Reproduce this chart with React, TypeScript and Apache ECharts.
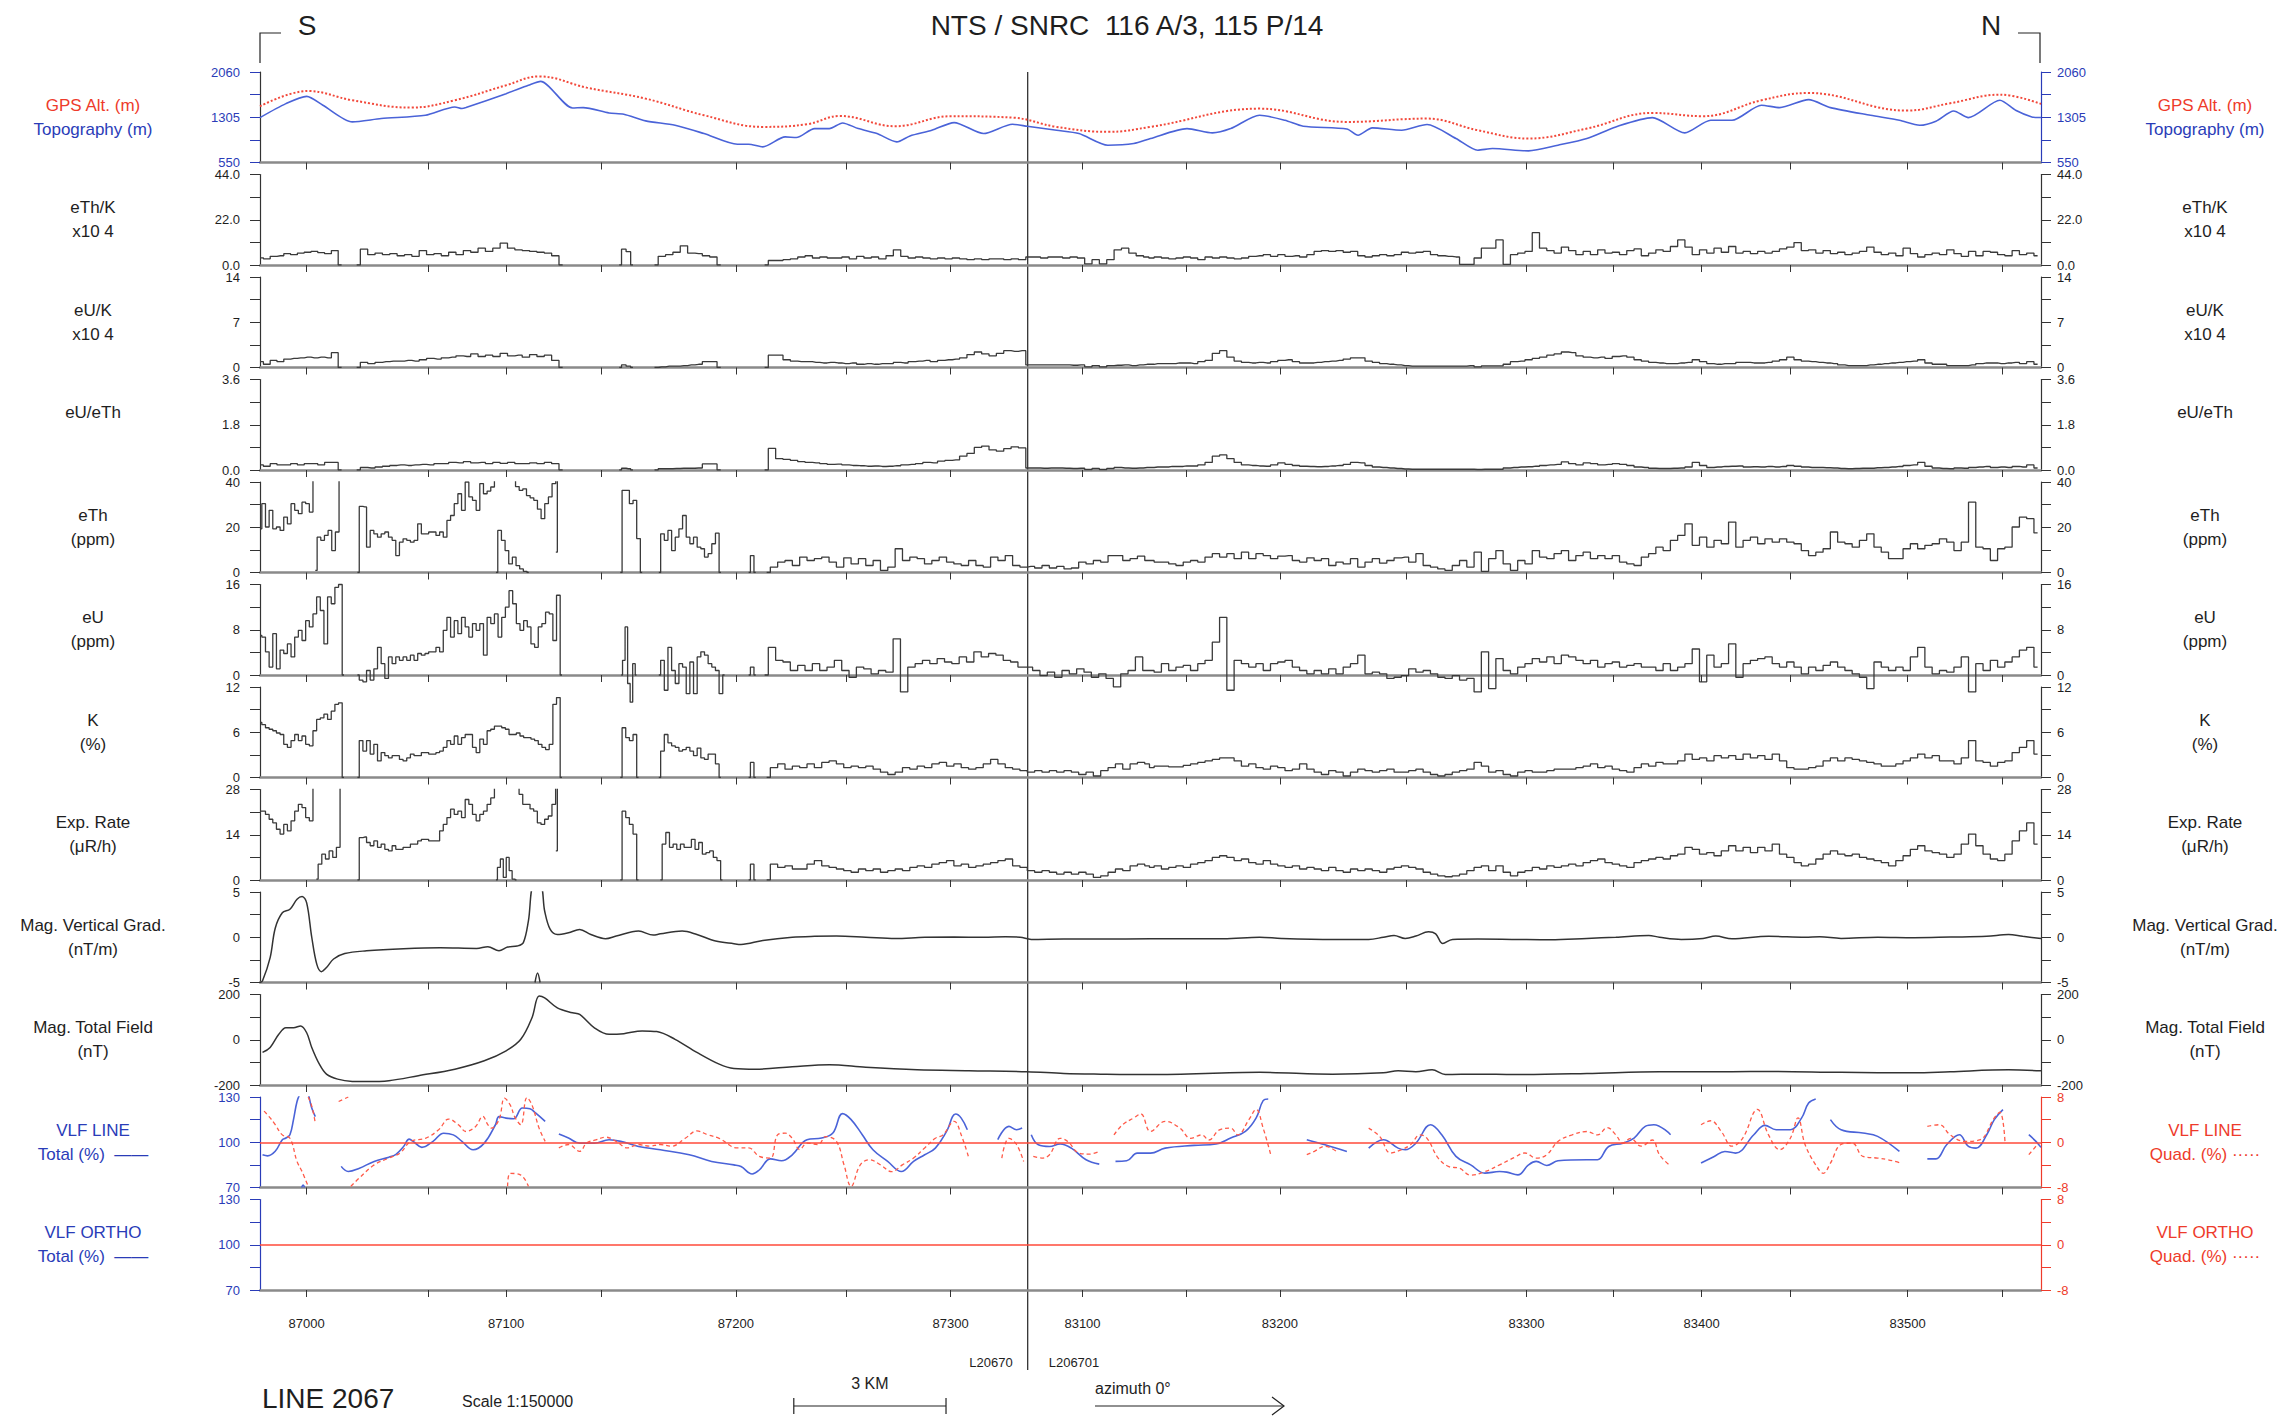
import React, { useEffect, useRef } from 'react';
import * as echarts from 'echarts';

// ---------------- layout (not data) ----------------
const CW = 2289, CH = 1417;
const PLOT_L = 260, PLOT_R = 2041;
const TOP0 = 72, STEP = 102.5, PH = 90.5;
const FONT = 'Liberation Sans, Arial, sans-serif';
const BLUE = '#2a3cb8', LBLUE = '#4a63d8', RED = '#ee3b2b', INK = '#1e1e1e';

// ---------------- x axis: distance along the line (km) ----------------
const X_MAX = 35.1;
const BREAK_KM = 15.13;
const FID_KM = [0.92, 3.31, 4.85, 6.73, 9.38, 11.55, 13.61, 16.21, 18.26, 20.10, 22.60, 24.96, 26.67, 28.41, 30.16, 32.47, 34.33];
const FID_LABEL = ['87000', '', '87100', '', '87200', '', '87300', '83100', '', '83200', '', '83300', '', '83400', '', '83500', ''];
const SCALE_BAR_KM = [10.52, 13.52];

// ---------------- y axes ----------------
const Y_MIN = [550, 0, 0, 0, 0, 0, 0, 0, -5, -200, 70, 70];
const Y_MAX = [2060, 44, 14, 3.6, 40, 16, 12, 28, 5, 200, 130, 130];
const Y_LABELS = [[550, 1305, 2060], [0, 22, 44], [0, 7, 14], [0, 1.8, 3.6], [0, 20, 40], [0, 8, 16], [0, 6, 12], [0, 14, 28], [-5, 0, 5], [-200, 0, 200], [70, 100, 130], [70, 100, 130]];
const Y_DEC = [0, 1, 0, 1, 0, 0, 0, 0, 0, 0, 0, 0];
const QUAD_LABELS = [-8, 0, 8];

const LEFT_NAMES = [['GPS Alt. (m)', 'Topography (m)'], ['eTh/K', 'x10 4'], ['eU/K', 'x10 4'], ['eU/eTh'], ['eTh', '(ppm)'], ['eU', '(ppm)'], ['K', '(%)'], ['Exp. Rate', '(\u03bcR/h)'], ['Mag. Vertical Grad.', '(nT/m)'], ['Mag. Total Field', '(nT)'], ['VLF LINE', 'Total (%)  \u2014\u2014'], ['VLF ORTHO', 'Total (%)  \u2014\u2014']];
const RIGHT_NAMES = [['GPS Alt. (m)', 'Topography (m)'], ['eTh/K', 'x10 4'], ['eU/K', 'x10 4'], ['eU/eTh'], ['eTh', '(ppm)'], ['eU', '(ppm)'], ['K', '(%)'], ['Exp. Rate', '(\u03bcR/h)'], ['Mag. Vertical Grad.', '(nT/m)'], ['Mag. Total Field', '(nT)'], ['VLF LINE', 'Quad. (%) \u00b7\u00b7\u00b7\u00b7\u00b7'], ['VLF ORTHO', 'Quad. (%) \u00b7\u00b7\u00b7\u00b7\u00b7']];

// ---------------- data ----------------
type Seg = [number, number, number[]] | null;
const GAP = null;

const GPS_ALT = [[0, 1488], [0.95, 1743], [1.82, 1588], [2.97, 1466], [3.84, 1588], [4.85, 1838], [5.5, 1987], [6.44, 1799], [7.6, 1616], [8.75, 1338], [9.91, 1144], [10.78, 1188], [11.43, 1327], [12.52, 1155], [13.61, 1322], [14.83, 1299], [15.7, 1144], [16.71, 1061], [17.55, 1144], [19.7, 1449], [21.42, 1227], [23.0, 1283], [24.0, 1088], [25.0, 950], [26.15, 1116], [27.44, 1377], [28.44, 1322], [29.59, 1588], [30.52, 1710], [32.45, 1416], [33.31, 1538], [34.29, 1682], [35.1, 1527]];

const TOPO = [[0, 1299], [0.51, 1532], [0.92, 1654], [1.24, 1505], [1.82, 1227], [2.39, 1283], [3.26, 1338], [3.84, 1477], [3.98, 1450], [4.06, 1466], [4.85, 1699], [5.29, 1838], [5.53, 1904], [6.16, 1460], [6.37, 1466], [6.88, 1377], [7.17, 1355], [7.6, 1244], [8.18, 1172], [8.75, 1033], [9.41, 855], [9.63, 855], [9.91, 811], [10.35, 977], [10.57, 966], [10.93, 1116], [11.22, 1116], [11.48, 1210], [11.79, 1116], [12.16, 1033], [12.55, 894], [12.81, 994], [13.24, 1088], [13.68, 1216], [14.26, 1033], [14.83, 1188], [15.12, 1155], [15.7, 1088], [16.14, 1033], [16.71, 839], [17.22, 866], [17.55, 950], [18.27, 1116], [18.77, 1044], [19.13, 1116], [19.7, 1338], [20.2, 1255], [20.56, 1155], [21.42, 1110], [21.64, 1005], [21.92, 1127], [22.5, 1088], [23.0, 1183], [23.57, 950], [24.0, 755], [24.29, 783], [25.0, 744], [25.58, 839], [26.15, 950], [26.72, 1144], [27.44, 1299], [28.08, 1044], [28.59, 1255], [29.01, 1255], [29.59, 1505], [29.95, 1466], [30.52, 1599], [30.95, 1466], [31.74, 1338], [32.31, 1255], [32.71, 1172], [33.03, 1240], [33.38, 1410], [33.67, 1299], [34.29, 1588], [34.6, 1421], [34.92, 1310], [35.1, 1300]];

const ETH_K: Seg[] = [
  [0, 0.134, [3.5, 3.0, 4.2, 4.5, 5.5, 5.0, 5.8, 6.2, 6.6, 6.0, 5.5, 7.0, 0]], GAP,
  [1.905, 0.145, [0, 7.7, 5.0, 5.8, 5.0, 5.5, 4.5, 5.0, 4.2, 7.0, 5.0, 5.5, 4.5, 6.2, 5.0, 7.0, 6.2, 8.2, 6.6, 8.2, 10.6, 8.2, 7.4, 7.0, 6.6, 6.2, 5.8, 4.5, 0]], GAP,
  [7.08, 0.09, [0, 7.7, 6.5, 0]], GAP,
  [7.775, 0.145, [0, 4.2, 5.0, 6.2, 9.3, 5.8, 5.5, 4.5, 3.9, 0]], GAP,
  [9.945, 0.145, [0, 2.2, 2.2, 2.6, 3.0, 3.9, 4.5, 3.4, 3.9, 3.4, 3.4, 3.9, 3.0, 4.2, 3.4, 3.9, 3.0, 4.5, 7.4, 4.2, 3.4, 3.9, 3.4, 3.0, 3.4, 3.0, 3.4, 3.0, 2.6, 3.0, 2.6, 3.0, 3.0, 2.6, 3.0, 2.6, 3.9, 3.9, 3.4, 3.9, 3.9, 3.4, 3.9, 3.4, 0.5, 2.6, 0.5, 2.6, 7.4, 8.2, 5.8, 4.5, 3.9]],
  [17.55, 0.1433, [3.4, 3.9, 3.4, 3.0, 3.4, 3.9, 3.4, 2.6, 3.9, 3.4, 3.9, 3.4, 3.0, 3.4, 4.2, 4.5, 5.0, 4.2, 5.0, 4.2, 4.5, 3.9, 5.0, 6.6, 7.0, 6.6, 7.0, 6.2, 6.6, 4.5, 3.9, 4.5, 5.0, 4.5, 5.0, 6.2, 5.8, 6.2, 6.6, 5.0, 4.5, 4.2, 3.9, 0.3, 0.3, 3.4, 8.2, 8.2, 12.2, 0.3, 5.0, 5.8, 6.6, 15.7, 8.2, 7.0, 5.8, 8.7, 7.0, 5.0, 6.6, 5.0, 7.4, 5.8, 6.2, 5.0, 7.0, 7.8, 4.5, 5.8, 7.4, 6.6, 9.0, 12.2, 8.7, 5.0, 7.4, 5.8, 8.2, 6.2, 9.0, 5.8, 6.6, 5.5, 6.6, 5.8, 6.6, 7.8, 8.7, 10.9, 7.0, 7.4, 5.8, 7.0, 5.5, 6.2, 5.0, 5.8, 6.6, 8.7, 6.2, 5.0, 5.8, 4.5, 8.2, 5.5, 3.9, 5.0, 5.8, 5.0, 7.4, 5.5, 4.2, 6.6, 4.5, 6.6, 6.2, 5.0, 4.5, 7.0, 5.0, 5.8, 4.5]],
];

const EU_K: Seg[] = [
  [0, 0.134, [0.9, 0.5, 1.1, 0.9, 1.3, 1.4, 1.5, 1.6, 1.5, 1.6, 1.5, 2.3, 0]], GAP,
  [1.905, 0.145, [0, 0.8, 0.6, 0.8, 0.9, 1.0, 1.0, 1.1, 1.0, 1.2, 1.4, 1.3, 1.5, 1.6, 1.8, 1.7, 2.1, 1.7, 1.9, 1.7, 2.2, 1.8, 1.9, 1.6, 2.0, 1.7, 1.9, 1.1, 0]], GAP,
  [7.08, 0.09, [0, 0.4, 0.2, 0]], GAP,
  [7.775, 0.145, [0, 0.1, 0.2, 0.2, 0.3, 0.4, 0.5, 0.9, 0.9, 0]], GAP,
  [9.945, 0.145, [0, 1.9, 1.9, 1.2, 1.0, 0.9, 0.9, 0.8, 0.7, 0.8, 0.7, 0.6, 0.7, 0.5, 0.6, 0.5, 0.6, 0.6, 0.8, 0.7, 0.9, 1.0, 1.1, 0.9, 1.1, 1.2, 1.3, 1.5, 2.0, 2.4, 2.1, 1.8, 2.2, 2.6, 2.5, 2.6, 0.4, 0.4, 0.4, 0.4, 0.4, 0.4, 0.35, 0.4, 0.1, 0.3, 0.1, 0.3, 0.35, 0.4, 0.3, 0.4, 0.5]],
  [17.55, 0.1433, [0.5, 0.6, 0.6, 0.6, 0.7, 0.7, 0.6, 0.9, 1.1, 2.2, 2.6, 1.6, 1.0, 0.8, 0.7, 0.8, 0.7, 0.9, 1.1, 1.2, 0.9, 0.7, 0.7, 0.8, 0.9, 1.0, 1.1, 1.3, 1.5, 1.5, 1.0, 0.8, 0.6, 0.5, 0.4, 0.3, 0.2, 0.2, 0.2, 0.2, 0.2, 0.2, 0.2, 0.2, 0.3, 0.1, 0.25, 0.25, 0.25, 0.5, 0.9, 1.0, 1.2, 1.4, 1.6, 1.9, 2.1, 2.4, 2.3, 1.8, 1.6, 1.5, 1.6, 1.4, 1.7, 1.8, 1.6, 1.2, 1.0, 0.8, 0.7, 0.6, 0.6, 0.7, 0.8, 1.2, 0.9, 0.6, 0.5, 0.6, 0.6, 0.8, 0.8, 0.7, 0.7, 0.8, 1.0, 1.2, 1.6, 1.2, 1.0, 0.9, 0.8, 0.7, 0.6, 0.4, 0.3, 0.3, 0.3, 0.4, 0.5, 0.6, 0.7, 0.8, 0.9, 1.0, 1.2, 0.7, 0.5, 0.5, 0.3, 0.3, 0.3, 0.4, 0.6, 0.7, 0.7, 0.6, 0.7, 0.8, 0.6, 0.9, 0.5]],
];

const EU_ETH: Seg[] = [
  [0, 0.134, [0.2, 0.15, 0.25, 0.2, 0.2, 0.25, 0.2, 0.25, 0.25, 0.2, 0.3, 0.3, 0]], GAP,
  [1.905, 0.145, [0, 0.1, 0.08, 0.12, 0.15, 0.18, 0.2, 0.18, 0.2, 0.22, 0.2, 0.25, 0.25, 0.3, 0.28, 0.33, 0.28, 0.3, 0.25, 0.3, 0.26, 0.3, 0.25, 0.25, 0.28, 0.25, 0.3, 0.25, 0]], GAP,
  [7.08, 0.09, [0, 0.07, 0.05, 0]], GAP,
  [7.775, 0.145, [0, 0.05, 0.05, 0.06, 0.07, 0.07, 0.08, 0.24, 0.24, 0]], GAP,
  [9.945, 0.145, [0, 0.86, 0.45, 0.42, 0.38, 0.33, 0.3, 0.28, 0.25, 0.22, 0.23, 0.2, 0.18, 0.17, 0.15, 0.16, 0.14, 0.15, 0.17, 0.2, 0.22, 0.25, 0.3, 0.28, 0.35, 0.38, 0.4, 0.55, 0.66, 0.9, 0.95, 0.8, 0.75, 0.85, 0.92, 0.88, 0.08, 0.08, 0.07, 0.08, 0.08, 0.07, 0.06, 0.07, 0.02, 0.06, 0.02, 0.06, 0.1, 0.08, 0.07, 0.08, 0.1]],
  [17.55, 0.1433, [0.1, 0.12, 0.12, 0.14, 0.14, 0.16, 0.16, 0.2, 0.3, 0.55, 0.6, 0.45, 0.3, 0.2, 0.18, 0.16, 0.15, 0.2, 0.28, 0.22, 0.18, 0.15, 0.14, 0.13, 0.14, 0.16, 0.18, 0.22, 0.3, 0.28, 0.18, 0.12, 0.1, 0.08, 0.06, 0.04, 0.03, 0.03, 0.03, 0.03, 0.03, 0.03, 0.03, 0.03, 0.03, 0.02, 0.03, 0.03, 0.03, 0.08, 0.1, 0.12, 0.13, 0.15, 0.18, 0.2, 0.22, 0.32, 0.25, 0.2, 0.28, 0.25, 0.2, 0.22, 0.25, 0.22, 0.18, 0.12, 0.1, 0.07, 0.06, 0.06, 0.07, 0.08, 0.12, 0.3, 0.18, 0.1, 0.12, 0.14, 0.15, 0.16, 0.12, 0.13, 0.12, 0.14, 0.12, 0.14, 0.18, 0.15, 0.12, 0.1, 0.1, 0.09, 0.08, 0.06, 0.05, 0.06, 0.07, 0.07, 0.09, 0.1, 0.12, 0.14, 0.18, 0.2, 0.3, 0.15, 0.08, 0.06, 0.05, 0.08, 0.07, 0.1, 0.12, 0.14, 0.1, 0.12, 0.1, 0.14, 0.12, 0.2, 0.08]],
];

const ETH_PPM: Seg[] = [
  [0, 0.072, [19.3, 30.4, 20.1, 27.5, 19.3, 20.1, 18.6, 24.5, 21.5, 30.4, 27.5, 26, 31.1, 30.4, 26.7, 45]], GAP,
  [1.09, 0.072, [0.9, 15.6, 14.2, 16.4, 18.6, 9.7, 17.9, 45]], GAP,
  [1.92, 0.072, [0, 29.2, 29, 11.2, 18.6, 17.1, 15.6, 17.1, 17.9, 15.6, 14.2, 7.5, 13.4, 14.9, 14.2, 13.4, 14.2, 21.5, 17.1, 17.1, 17.9, 17.9, 16.4, 17.9, 15.6, 23, 25.2, 30.4, 34.8, 27.5, 40, 33.4, 31.9, 27.5, 39.3, 34.8, 36, 37.8, 45]], GAP,
  [5.0, 0.072, [45, 38, 36.3, 37, 34, 33, 31.9, 28, 23.8, 30.4, 33.4, 39.3, 45]], GAP,
  [4.65, 0.072, [0, 18.6, 14.2, 9.7, 3.8, 6.8, 3, 1.6, 0.5, 0]], GAP,
  [5.83, 0.06, [9, 45]], GAP,
  [7.10, 0.072, [0, 36.3, 36.3, 30.4, 31.9, 15, 0]], GAP,
  [7.86, 0.072, [0, 17.1, 14.2, 18.6, 9.7, 15.6, 19.3, 25.2, 15.6, 12.7, 15.6, 11.2, 10.5, 6.8, 8.3, 12.7, 17.4, 0]], GAP,
  [9.63, 0.07, [0, 7.5, 0]], GAP,
  [9.985, 0.1447, [0, 2.4, 4.6, 5.3, 3.1, 6.8, 5.3, 6.1, 6.8, 4.6, 2.4, 6.5, 3.8, 6.1, 3.1, 5.3, 0.9, 2.4, 10.5, 5.3, 6.8, 6.1, 3.8, 5.3, 6.8, 4.6, 3.8, 3.1, 5.3, 3.1, 2.4, 6.8, 5.3, 7.5, 3.1, 2.4, 2.7, 2.0, 3.1, 2.0, 2.7, 1.6, 2.0, 4.6, 3.8, 5.3, 4.6, 7.5, 7.5, 5.3, 6.1, 7.2, 5.3]],
  [17.55, 0.1433, [5.3, 4.6, 4.6, 3.8, 3.1, 4.6, 5.3, 4.6, 6.8, 8.3, 6.8, 8.3, 6.1, 9.0, 6.1, 8.3, 7.5, 6.1, 7.2, 7.5, 5.3, 4.6, 6.5, 5.3, 6.1, 3.1, 4.6, 3.8, 6.1, 2.4, 4.6, 6.1, 4.1, 5.3, 6.5, 6.8, 4.6, 8.3, 3.1, 2.4, 1.6, 0.9, 3.1, 5.3, 2.4, 9.0, 0.5, 6.1, 9.7, 3.8, 0.9, 5.3, 3.8, 9.7, 6.8, 6.1, 8.3, 9.7, 5.3, 7.5, 9.0, 6.1, 7.5, 6.1, 7.5, 4.6, 3.8, 3.1, 6.8, 8.3, 11.2, 9.7, 14.2, 16.4, 21.5, 12.0, 15.6, 11.2, 14.2, 12.7, 22.3, 11.2, 14.2, 15.6, 12.7, 14.9, 13.4, 14.9, 13.4, 12.7, 9.7, 7.5, 9.0, 10.5, 17.9, 13.4, 12.7, 11.2, 14.2, 17.1, 11.2, 9.0, 6.1, 6.1, 10.5, 12.7, 10.5, 12.0, 12.7, 14.9, 13.4, 9.7, 13.4, 31.1, 11.2, 10.5, 5.3, 10.5, 11.2, 20.1, 24.5, 23.8, 17.5]],
];

const EU_PPM: Seg[] = [
  [0, 0.072, [7.0, 6.7, 4.1, 1.4, 7.3, 1.1, 4.4, 3.8, 5.5, 3.2, 6.7, 7.9, 6.1, 9.6, 8.5, 10.8, 13.8, 11.4, 5.5, 13.8, 12.6, 15.5, 16, 0]], GAP,
  [1.92, 0.072, [0, -0.9, -1.2, 0.8, -0.9, 1.1, 4.9, 2.0, -0.6, 3.2, 2.0, 3.2, 2.6, 3.2, 2.6, 3.5, 2.6, 3.8, 3.5, 3.8, 4.1, 4.1, 4.9, 4.1, 7.9, 10.2, 6.7, 9.6, 7.3, 10.2, 8.5, 6.7, 9.1, 7.9, 9.1, 3.5, 10.2, 9.1, 10.8, 6.7, 10.2, 12.0, 14.9, 12.6, 9.1, 7.9, 9.6, 8.5, 5.5, 4.9, 8.5, 9.1, 11.1, 10.8, 6.1, 14.1, 0]], GAP,
  [7.12, 0.05, [0, 2.6, 8.5, -1.5, -4.8, 2.0, 0]], GAP,
  [7.86, 0.072, [0, 2.6, -2.7, 4.9, 0.8, -1.5, 2.0, 1.4, -3.3, 2.3, -3.3, 3.2, 4.1, 3.5, 2.0, 1.4, 0.8, -3.3, 0]], GAP,
  [9.63, 0.07, [0, 1.4, 0]], GAP,
  [9.945, 0.1447, [0, 4.9, 2.6, 2.3, 0.8, 1.7, 0.8, 2.0, 0.8, 1.4, 2.6, 0.8, -0.4, 1.4, 1.1, 0.2, 0.8, 0.5, 6.4, -3.0, 1.4, 2.0, 2.6, 2.0, 2.9, 2.3, 2.0, 3.2, 2.3, 4.1, 3.2, 3.8, 3.5, 2.6, 2.3, 1.4, 1.4, 0.8, -0.1, 0.5, -0.4, 0.8, 0.2, 1.1, 0.5, -0.4, 0.2, -0.6, -2.1, 0.2, 0.8, 3.2, 0.8]],
  [17.55, 0.1433, [0.8, 0.5, 2.0, 0.8, 1.4, 1.7, 0.8, 2.0, 2.6, 5.8, 10.2, -2.7, 2.6, 2.0, 1.4, 2.0, 0.8, 2.0, 2.3, 2.6, 1.4, 0.8, 0.2, 0.8, 0.2, 1.1, 0.2, 1.4, 2.0, 3.5, 0.2, 0.5, 0.2, -0.6, -0.4, -0.1, 1.1, 0.5, 0.8, 0.2, -0.4, -0.6, -0.1, -0.9, -0.6, -3.0, 4.1, -2.4, 2.9, 0.8, 0.2, 1.4, 2.0, 2.9, 2.3, 3.2, 2.0, 3.5, 3.2, 2.6, 2.0, 2.6, 1.4, 2.0, 2.3, 1.4, 1.7, 2.0, 1.4, 1.4, 0.8, 2.0, 0.8, 1.4, 2.0, 4.6, -1.2, 3.5, 1.4, 2.0, 5.5, -0.4, 2.0, 2.6, 2.9, 3.2, 2.0, 1.4, 2.3, 1.4, 0.2, 1.4, 0.8, 1.7, 2.3, 1.4, 0.8, 0.2, -0.4, -2.4, 2.3, 1.4, 0.8, 1.4, 0.8, 3.2, 4.9, 1.4, 0.2, 0.8, 0.5, 1.4, 3.2, -3.0, 2.0, 0.8, 2.6, 1.4, 2.3, 3.2, 4.4, 4.9, 1.4]],
];

const K_PCT: Seg[] = [
  [0, 0.072, [7.3, 7.0, 6.6, 6.4, 6.2, 5.9, 5.7, 4.4, 4.0, 4.9, 5.7, 4.9, 5.5, 4.4, 4.2, 6.2, 7.7, 7.9, 8.4, 7.7, 8.8, 9.7, 9.9, 0]], GAP,
  [1.92, 0.072, [0, 4.9, 3.5, 4.9, 3.1, 4.4, 2.2, 3.3, 2.9, 2.6, 2.9, 2.9, 2.4, 2.2, 2.6, 3.1, 2.9, 2.9, 3.3, 3.3, 3.1, 3.1, 3.3, 3.5, 4.0, 4.9, 4.4, 5.5, 4.4, 5.3, 5.7, 5.7, 4.0, 3.3, 5.1, 4.4, 6.2, 6.4, 6.8, 6.8, 6.6, 6.4, 5.7, 5.7, 5.9, 5.5, 5.3, 5.3, 5.1, 4.9, 4.4, 4.0, 3.7, 4.4, 9.7, 10.6, 0]], GAP,
  [7.10, 0.072, [0, 6.6, 5.3, 4.9, 5.7, 0]], GAP,
  [7.86, 0.072, [0, 3.5, 5.7, 4.6, 4.2, 4.0, 3.5, 3.7, 4.0, 3.5, 2.9, 3.9, 2.6, 2.4, 3.1, 3.1, 1.8, 0]], GAP,
  [9.63, 0.07, [0, 2.0, 0]], GAP,
  [9.985, 0.1447, [0, 1.3, 1.8, 1.1, 1.5, 1.3, 1.8, 1.3, 2.0, 2.2, 1.8, 1.3, 1.5, 1.3, 1.5, 1.1, 0.7, 0.4, 0.7, 1.3, 1.1, 1.5, 1.3, 1.8, 2.0, 1.5, 1.8, 1.3, 1.1, 1.3, 1.8, 2.4, 1.8, 1.3, 1.1, 0.9, 0.7, 0.9, 0.7, 0.9, 0.7, 0.9, 0.7, 0.4, 0.7, 0.2, 0.9, 1.3, 1.8, 1.1, 1.8, 2.0, 1.8]],
  [17.55, 0.1433, [1.3, 1.5, 1.5, 1.4, 1.4, 1.6, 1.8, 2.0, 2.2, 2.4, 2.6, 2.6, 2.2, 1.5, 1.8, 1.3, 1.1, 1.5, 1.3, 0.9, 1.1, 1.8, 1.1, 0.7, 0.4, 0.9, 0.7, 0.2, 0.7, 1.1, 0.9, 0.7, 0.9, 1.1, 0.7, 0.7, 0.9, 1.1, 0.7, 0.4, 0.2, 0.4, 0.7, 0.9, 1.1, 2.0, 1.5, 0.7, 0.9, 0.4, 0.2, 0.7, 0.9, 0.7, 0.7, 0.9, 1.1, 1.1, 1.1, 1.3, 1.5, 1.8, 1.3, 1.5, 1.1, 0.9, 0.7, 1.3, 1.8, 1.5, 2.0, 1.8, 1.8, 2.2, 3.1, 2.4, 2.6, 2.2, 2.9, 2.6, 2.9, 2.4, 3.1, 2.6, 2.9, 2.4, 3.1, 2.2, 1.3, 1.1, 1.1, 1.3, 1.5, 2.2, 2.6, 2.2, 2.6, 2.4, 2.2, 2.0, 1.8, 1.5, 1.5, 1.8, 2.2, 2.6, 3.1, 2.6, 2.9, 2.2, 2.2, 1.8, 2.6, 4.9, 2.2, 2.0, 1.5, 2.0, 2.2, 3.3, 4.0, 4.9, 3.1]],
];

const EXP_RATE: Seg[] = [
  [0, 0.072, [21.3, 21.3, 20.3, 18.8, 17.7, 15.7, 14.2, 17.2, 15.2, 18.3, 21.3, 23.4, 22.4, 19.3, 18.3, 30]], GAP,
  [1.11, 0.072, [0.3, 4.9, 8.0, 6.5, 9.0, 7.0, 10.1, 30]], GAP,
  [1.92, 0.072, [0, 13.1, 13.3, 11.6, 10.6, 12.1, 10.1, 11.1, 9.5, 9.0, 10.6, 9.5, 9.5, 10.1, 10.1, 11.1, 11.1, 12.1, 12.6, 12.6, 12.1, 12.1, 12.1, 15.2, 17.2, 19.3, 21.9, 20.3, 21.3, 19.3, 24.9, 23.4, 20.3, 18.3, 20.3, 21.3, 23.4, 25.4, 30]], GAP,
  [5.07, 0.072, [30, 26.5, 23.4, 23.4, 22, 21.3, 17.7, 17.2, 18.8, 19.8, 23.4, 30]], GAP,
  [4.65, 0.058, [0, 3.9, 6.5, 0.8, 7.0, 2.9, 0.3, 0]], GAP,
  [5.83, 0.06, [9.0, 30]], GAP,
  [7.10, 0.072, [0, 21.3, 19.3, 17.2, 14.2, 0]], GAP,
  [7.89, 0.072, [0, 11.1, 14.7, 10.1, 11.1, 9.5, 11.1, 10.1, 10.1, 12.6, 9.5, 11.6, 8.0, 8.5, 9.0, 7.0, 6.0, 0]], GAP,
  [9.63, 0.07, [0, 4.9, 0]], GAP,
  [9.985, 0.1447, [0, 4.9, 3.9, 4.4, 3.4, 3.4, 4.9, 6.0, 4.4, 3.9, 3.4, 2.9, 2.4, 3.4, 2.9, 3.4, 2.4, 2.9, 3.4, 2.9, 3.9, 4.4, 3.9, 4.9, 5.4, 6.0, 4.4, 4.9, 3.9, 4.4, 4.9, 5.4, 6.0, 6.5, 4.4, 3.9, 2.9, 2.4, 2.9, 2.4, 1.8, 2.4, 1.8, 2.4, 1.8, 0.8, 1.3, 2.4, 3.4, 2.9, 4.4, 4.9, 4.4]],
  [17.55, 0.1433, [3.9, 4.4, 3.4, 3.9, 4.4, 3.9, 4.9, 5.4, 6.0, 7.0, 7.5, 7.0, 6.0, 6.5, 5.4, 4.9, 6.0, 4.9, 4.4, 3.9, 4.4, 3.4, 3.9, 3.4, 2.9, 3.9, 2.9, 2.4, 3.4, 2.9, 3.4, 2.9, 2.4, 3.4, 3.9, 4.4, 3.9, 3.4, 2.4, 1.8, 1.3, 1.0, 1.3, 1.8, 2.9, 3.9, 4.4, 2.9, 4.4, 2.4, 1.3, 2.4, 2.9, 3.9, 3.4, 4.4, 3.9, 4.4, 4.9, 4.4, 5.4, 6.0, 6.5, 5.4, 4.9, 4.4, 3.9, 5.4, 6.0, 6.5, 7.0, 6.5, 7.5, 8.0, 10.1, 9.5, 8.0, 8.5, 7.5, 9.0, 10.6, 9.0, 10.1, 8.5, 10.1, 9.0, 11.1, 8.0, 7.0, 5.4, 4.4, 4.9, 6.5, 8.0, 9.0, 8.0, 7.5, 8.0, 7.0, 6.5, 6.0, 5.4, 4.4, 6.0, 7.5, 9.5, 10.6, 9.0, 8.5, 8.0, 7.0, 8.0, 11.1, 14.2, 10.6, 8.0, 6.5, 6.0, 8.0, 12.1, 15.2, 17.7, 11.1]],
];

const MAG_VG = [
  [[0.0, -5], [0.05, -4.8], [0.2, -2.25], [0.3, 1.0], [0.44, 2.7], [0.59, 3.1], [0.73, 4.2], [0.83, 4.5], [0.92, 3.8], [1.02, 0], [1.12, -3.0], [1.21, -3.8], [1.31, -3.35], [1.45, -2.4], [1.67, -1.8], [2.10, -1.5], [2.83, -1.26], [3.55, -1.15], [4.27, -1.23], [4.49, -1.04], [4.71, -1.5], [4.88, -1.08], [5.07, -0.97], [5.19, -0.6], [5.29, 1.8], [5.39, 5.6], [5.53, 5.6], [5.61, 2.9], [5.72, 0.86], [5.86, 0.3], [6.08, 0.5], [6.3, 0.86], [6.52, 0.3], [6.81, -0.16], [7.02, 0.13], [7.46, 0.68], [7.75, 0.24], [7.89, 0.38], [8.32, 0.68], [8.61, 0.3], [8.98, -0.42], [9.34, -0.71], [9.48, -0.79], [9.91, -0.35], [10.49, 0], [10.93, 0.1], [11.36, 0.13], [11.94, 0], [12.52, -0.15], [13.1, 0], [13.68, 0.02], [14.26, 0], [14.69, 0.05], [14.98, 0], [15.2, -0.24], [15.84, -0.2], [16.57, -0.2], [17.55, -0.17], [18.99, -0.17], [19.7, 0], [20.13, -0.13], [21.14, -0.24], [21.85, -0.24], [22.14, 0], [22.35, 0.2], [22.57, -0.13], [22.78, 0.13], [23.03, 0.6], [23.17, 0.38], [23.31, -0.7], [23.5, -0.24], [24.0, -0.2], [24.72, -0.24], [25.43, -0.28], [26.15, -0.13], [26.72, 0], [27.37, 0.2], [27.58, 0], [28.01, -0.24], [28.44, -0.13], [28.69, 0.13], [29.01, -0.17], [29.73, 0.1], [30.45, 0], [30.74, 0.05], [31.16, -0.13], [31.88, 0], [32.6, -0.05], [33.31, 0.02], [34.03, 0.1], [34.46, 0.3], [34.74, 0.1], [35.1, -0.13]],
  [[5.42, -5], [5.47, -3.95], [5.52, -5]],
];

const MAG_TF = [
  [[0.05, -56], [0.2, -34], [0.37, 24], [0.51, 53], [0.66, 53], [0.8, 61], [0.92, 31], [1.02, -34], [1.17, -108], [1.31, -152], [1.53, -174], [1.82, -184], [2.1, -185], [2.54, -181], [3.12, -159], [3.84, -130], [4.42, -93], [4.85, -49], [5.14, 2], [5.36, 97], [5.5, 193], [5.61, 185], [5.86, 141], [6.16, 119], [6.3, 112], [6.59, 53], [6.88, 24], [7.17, 27], [7.53, 39], [7.82, 36], [8.18, 2], [8.61, -56], [9.05, -108], [9.34, -127], [9.77, -130], [10.49, -119], [11.22, -110], [11.94, -122], [12.95, -133], [13.97, -137], [15.12, -141], [15.84, -149], [16.57, -152], [17.55, -154], [19.7, -144], [21.14, -152], [22.14, -146], [22.43, -137], [22.78, -141], [23.1, -133], [23.36, -154], [24.0, -152], [24.72, -154], [26.15, -149], [27.58, -141], [29.01, -141], [29.73, -140], [31.16, -144], [32.6, -146], [33.31, -141], [34.46, -133], [35.1, -137]],
];

const VLF_TOTAL = [
  [[0.05, 91.7], [0.15, 91], [0.3, 94], [0.44, 101.7], [0.51, 102.8], [0.59, 105], [0.66, 115], [0.73, 127], [0.8, 133]],
  [[0.95, 133], [0.98, 128], [1.02, 122.7], [1.09, 117]],
  [[0.82, 70], [0.85, 71.6], [0.88, 70]],
  [[1.6, 84], [1.74, 80.6], [1.96, 82.8], [2.25, 87.3], [2.54, 90.1], [2.68, 92], [2.83, 97.2], [2.94, 102.1], [3.04, 100], [3.19, 96.6], [3.41, 100.6], [3.62, 106], [3.81, 104.9], [3.98, 100.6], [4.2, 95], [4.42, 99.4], [4.64, 111.6], [4.71, 117], [4.85, 116], [5.0, 115.6], [5.17, 122.7], [5.32, 122.2], [5.43, 119.4], [5.62, 113.8]],
  [[5.89, 105.4], [6.08, 102.8], [6.3, 99.4], [6.59, 99.4], [6.88, 101.7], [7.17, 100.1], [7.46, 97.2], [7.89, 95], [8.46, 91.7], [8.9, 87.3], [9.34, 85], [9.48, 83.9], [9.7, 79], [9.84, 81.6], [10.06, 89], [10.28, 87.7], [10.49, 91.7], [10.78, 101.7], [11.07, 102.8], [11.29, 106.1], [11.48, 119], [11.65, 115], [11.87, 105], [12.08, 95], [12.37, 87.3], [12.64, 80.6], [12.88, 87.3], [13.1, 91.7], [13.31, 96.1], [13.53, 107.2], [13.71, 118.7], [13.82, 116], [13.94, 108.3]],
  [[14.54, 101.7], [14.76, 110.5], [14.91, 108.3], [15.02, 109.4]],
  [[15.2, 105], [15.34, 98.3], [15.56, 97.2], [15.77, 98.8], [15.99, 96.1], [16.28, 88.4], [16.54, 85.5]],
  [[16.86, 87.3], [17.08, 87.7], [17.29, 92.8], [17.55, 92.8], [17.84, 96.1], [18.41, 97.9], [18.84, 98.8], [19.13, 102.8], [19.42, 107.2], [19.63, 116], [19.77, 127.6], [19.87, 128.7]],
  [[20.63, 101.7], [20.99, 98.3], [21.42, 93.9]],
  [[21.85, 96.1], [22.14, 101.7], [22.43, 96.1], [22.57, 95], [22.78, 99.4], [23.07, 111.6], [23.29, 105], [23.57, 90.6], [23.86, 85], [24.14, 79.5], [24.43, 80.6], [24.57, 80.2], [24.79, 78.4], [25.0, 85], [25.15, 87.3], [25.36, 84.6], [25.58, 87.7], [26.15, 88.4], [26.36, 88.4], [26.58, 97.2], [26.86, 99.4], [27.08, 102.8], [27.3, 110.5], [27.47, 111.6], [27.8, 105]],
  [[28.4, 86.2], [28.66, 90.6], [28.87, 93.9], [29.08, 92.8], [29.44, 105], [29.66, 111.2], [29.88, 108.3], [30.16, 108.3], [30.38, 116], [30.52, 126], [30.66, 128.7]],
  [[30.95, 115], [31.16, 108.3], [31.59, 106.1], [31.88, 103.9], [32.31, 93.9]],
  [[32.86, 89], [33.03, 89], [33.24, 98.3], [33.49, 105], [33.67, 97.2], [33.82, 96.1], [34.03, 105], [34.18, 115], [34.35, 121.6]],
  [[34.86, 105], [35.0, 100.6], [35.1, 96.6]],
];

const VLF_QUAD = [
  [[0.08, 5.5], [0.2, 4.3], [0.3, 3.1], [0.44, 1.3], [0.59, 0.7], [0.73, -3.4], [0.83, -5.2], [0.95, -7.8]],
  [[0.95, 8], [1.02, 6.4], [1.09, 3.4]],
  [[1.55, 7.2], [1.74, 8]],
  [[1.79, -7.8], [1.96, -6.3], [2.25, -4.0], [2.54, -2.8], [2.76, -1.9], [2.97, 0.15], [3.26, 0.7], [3.52, 2.2], [3.72, 4.1], [3.91, 3.1], [4.06, 1.9], [4.25, 2.8], [4.39, 4.6], [4.49, 3.1], [4.56, 2.5], [4.71, 4.0], [4.82, 7.8], [4.93, 6.6], [5.03, 4.3], [5.14, 3.1], [5.26, 7.9], [5.36, 6.6], [5.5, 2.5], [5.62, 0.15]],
  [[4.88, -7.8], [4.93, -5.5], [5.14, -5.8], [5.29, -7.8]],
  [[5.89, -1.0], [6.08, -0.4], [6.3, -1.6], [6.44, -0.1], [6.62, 0.4], [6.81, 0.9], [7.02, 0.15], [7.24, -1.0], [7.46, -0.4], [7.67, -0.7], [7.89, -0.4], [8.11, -0.7], [8.38, 0.7], [8.61, 2.0], [8.83, 1.3], [9.05, 0.7], [9.41, -1.0], [9.63, -1.0], [9.84, -2.5], [10.06, -2.8], [10.2, 1.3], [10.35, 1.6], [10.49, 0.7], [10.64, -1.3], [10.78, -0.15], [11.0, -0.4], [11.15, 1.0], [11.36, 0.15], [11.51, -4.0], [11.65, -7.8], [11.83, -4.0], [12.01, -3.1], [12.23, -4.0], [12.45, -5.2], [12.66, -4.0], [12.88, -2.8], [13.1, -1.0], [13.31, 0.7], [13.46, 1.3], [13.68, 3.7], [13.82, 1.3], [13.97, -2.8]],
  [[14.62, -2.8], [14.76, 0.7], [14.91, -0.4], [15.05, -3.4]],
  [[15.24, -2.5], [15.41, -2.8], [15.56, -2.2], [15.77, 0.7], [15.92, 0.15], [16.14, -1.9], [16.35, -2.1], [16.54, -1.6]],
  [[16.83, 1.3], [17.0, 3.1], [17.22, 4.3], [17.36, 5.0], [17.55, 1.9], [17.84, 3.7], [18.13, 2.5], [18.34, 0.7], [18.56, 1.3], [18.7, 0.4], [18.91, 2.2], [19.13, 2.5], [19.27, 1.3], [19.49, 4.0], [19.63, 5.8], [19.77, 2.5], [19.92, -2.2]],
  [[20.63, -2.2], [20.78, -1.6], [20.99, -0.7], [21.21, -1.6]],
  [[21.85, 2.5], [22.07, 1.0], [22.28, -1.9], [22.5, -1.3], [22.68, -0.4], [22.86, 1.3], [23.0, 0.7], [23.22, -2.8], [23.43, -4.3], [23.64, -4.6], [23.86, -5.8], [24.14, -5.2], [24.43, -4.0], [24.72, -2.7], [24.93, -1.9], [25.15, -2.8], [25.36, -2.2], [25.58, 0.15], [25.86, 1.3], [26.15, 1.9], [26.36, 1.3], [26.55, 2.6], [26.72, 1.3], [26.86, -0.15], [27.01, 0.7], [27.22, -0.7], [27.44, 0.4], [27.58, -2.2], [27.76, -3.9]],
  [[28.4, 3.1], [28.59, 3.8], [28.8, 1.9], [29.01, -0.7], [29.22, 0.7], [29.51, 5.8], [29.73, 1.3], [29.95, -1.3], [30.16, 0.7], [30.31, 4.3], [30.45, -0.4], [30.66, -4.0], [30.81, -5.5], [30.95, -3.7], [31.16, -0.4], [31.38, -0.15], [31.59, -2.5], [31.88, -2.8], [32.09, -3.1], [32.31, -3.6]],
  [[32.86, 2.8], [33.1, 3.1], [33.31, 1.3], [33.6, 0.15], [33.89, 0.4], [34.18, 4.3], [34.29, 5.3], [34.39, 0.15]],
  [[34.86, -2.2], [35.03, -0.4]],
];

// ---------------- builders ----------------
function fromSegs(spec: Seg[]) {
  const out: (number | null)[][] = [];
  let gap = false;
  for (const s of spec) {
    if (s === null) { gap = true; continue; }
    const [x0, dx, vals] = s;
    if (gap && out.length) {
      out.push([out[out.length - 1][0], null]);
      out.push([x0, null]);
    }
    gap = false;
    vals.forEach((v, i) => out.push([Math.round((x0 + i * dx) * 1000) / 1000, v]));
  }
  return out;
}

function fromParts(parts: number[][][]) {
  const out: (number | null)[][] = [];
  parts.forEach((p, k) => {
    if (k > 0) {
      out.push([out[out.length - 1][0], null]);
      out.push([p[0][0], null]);
    }
    p.forEach((pt) => out.push([pt[0], pt[1]]));
  });
  return out;
}

function fmt(v: number, d: number) { return v.toFixed(d); }
function quarterTicks(a: number, b: number) { return [0, 1, 2, 3, 4].map((k) => a + (k * (b - a)) / 4); }

function buildOption() {
  const grids: any[] = [], xAxes: any[] = [], yAxes: any[] = [];
  for (let i = 0; i < 12; i++) {
    grids.push({ left: PLOT_L, right: CW - PLOT_R, top: TOP0 + i * STEP, height: PH, outerBoundsMode: 'none', containLabel: false });
    const last = i === 11;
    xAxes.push({
      type: 'value', gridIndex: i, min: 0, max: X_MAX,
      axisLine: { show: true, onZero: false, lineStyle: { color: '#8a8a8a', width: 2.5 } },
      axisTick: { show: true, customValues: FID_KM, length: 7, lineStyle: { color: '#333', width: 1 } },
      axisLabel: last ? {
        show: true, customValues: FID_KM.filter((_, k) => FID_LABEL[k] !== ''),
        formatter: (v: number) => { const k = FID_KM.findIndex((f) => Math.abs(f - v) < 1e-6); return k >= 0 ? FID_LABEL[k] : ''; },
        color: INK, fontSize: 13, fontFamily: FONT, margin: 27,
      } : { show: false },
      splitLine: { show: false },
    });
    const vlf = i >= 10;
    const leftCol = i === 0 || vlf ? BLUE : INK;
    const leftLine = vlf ? BLUE : '#333';
    yAxes.push({
      type: 'value', gridIndex: i, position: 'left', min: Y_MIN[i], max: Y_MAX[i],
      axisLine: { show: true, onZero: false, lineStyle: { color: leftLine, width: 1.2 } },
      axisTick: { show: true, customValues: quarterTicks(Y_MIN[i], Y_MAX[i]), length: 10, lineStyle: { color: leftCol === INK ? '#333' : leftCol } },
      axisLabel: { show: true, customValues: Y_LABELS[i], formatter: (v: number) => fmt(v, Y_DEC[i]), color: leftCol, fontSize: 13, fontFamily: FONT, margin: 20 },
      splitLine: { show: false },
    });
    const rMin = vlf ? QUAD_LABELS[0] : Y_MIN[i], rMax = vlf ? QUAD_LABELS[2] : Y_MAX[i];
    const rightCol = vlf ? RED : i === 0 ? BLUE : INK;
    yAxes.push({
      type: 'value', gridIndex: i, position: 'right', min: rMin, max: rMax,
      axisLine: { show: true, onZero: false, lineStyle: { color: vlf ? RED : i === 0 ? BLUE : '#333', width: 1.2 } },
      axisTick: { show: true, customValues: quarterTicks(rMin, rMax), length: 10, lineStyle: { color: rightCol === INK ? '#333' : rightCol } },
      axisLabel: { show: true, customValues: vlf ? QUAD_LABELS : Y_LABELS[i], formatter: (v: number) => fmt(v, vlf ? 0 : Y_DEC[i]), color: rightCol, fontSize: 13, fontFamily: FONT, margin: 16 },
      splitLine: { show: false },
    });
  }

  const base = { type: 'line', symbol: 'none', showSymbol: false, silent: true, animation: false, connectNulls: false };
  const gamma = (p: number, spec: Seg[], clip = true) => ({
    ...base, xAxisIndex: p, yAxisIndex: 2 * p, data: fromSegs(spec), step: 'middle', clip,
    lineStyle: { color: '#3a3a3a', width: 1.3 },
  });
  const refLine = { silent: true, symbol: 'none', label: { show: false }, lineStyle: { color: '#ff4a3a', width: 1.6, type: 'solid' }, data: [{ yAxis: 100 }] };

  const series: any[] = [
    { ...base, xAxisIndex: 0, yAxisIndex: 0, data: GPS_ALT, smooth: 0.4, lineStyle: { color: '#f2483a', width: 2, type: 'dotted' } },
    { ...base, xAxisIndex: 0, yAxisIndex: 0, data: TOPO, smooth: 0.25, lineStyle: { color: LBLUE, width: 1.6 } },
    gamma(1, ETH_K),
    gamma(2, EU_K),
    gamma(3, EU_ETH),
    gamma(4, ETH_PPM),
    gamma(5, EU_PPM, false),
    gamma(6, K_PCT),
    gamma(7, EXP_RATE),
    { ...base, xAxisIndex: 8, yAxisIndex: 16, data: fromParts(MAG_VG), smooth: 0.35, lineStyle: { color: '#333', width: 1.5 } },
    { ...base, xAxisIndex: 9, yAxisIndex: 18, data: fromParts(MAG_TF), smooth: 0.35, lineStyle: { color: '#333', width: 1.5 } },
    { ...base, xAxisIndex: 10, yAxisIndex: 20, data: fromParts(VLF_TOTAL), smooth: 0.4, z: 3, lineStyle: { color: LBLUE, width: 1.6 }, markLine: refLine },
    { ...base, xAxisIndex: 10, yAxisIndex: 21, data: fromParts(VLF_QUAD), smooth: 0.4, z: 3, lineStyle: { color: '#ff5a48', width: 1.3, type: [4, 3] } },
    { ...base, xAxisIndex: 11, yAxisIndex: 22, data: [], markLine: refLine },
  ];

  return {
    animation: false,
    backgroundColor: '#ffffff',
    textStyle: { fontFamily: FONT },
    grid: grids, xAxis: xAxes, yAxis: yAxes, series,
  };
}

function buildGraphics(bx: number, s0: number, s1: number) {
  const g: any[] = [];
  const txt = (text: string, x: number, y: number, size: number, color: string, align = 'center') => ({
    type: 'text', silent: true,
    style: { text, x, y, fill: color, fontSize: size, fontFamily: FONT, align, verticalAlign: 'middle' },
  });
  for (let i = 0; i < 12; i++) {
    const cy = TOP0 + i * STEP + PH / 2;
    const lc = i === 0 ? [RED, BLUE] : i >= 10 ? [BLUE, BLUE] : [INK, INK];
    const rc = i === 0 ? [RED, BLUE] : i >= 10 ? [RED, RED] : [INK, INK];
    LEFT_NAMES[i].forEach((t, k) => g.push(txt(t, 93, cy - 12 + k * 24, 17, lc[k])));
    RIGHT_NAMES[i].forEach((t, k) => g.push(txt(t, 2205, cy - 12 + k * 24, 17, rc[k])));
  }
  g.push(txt('NTS / SNRC\u00a0\u00a0116 A/3, 115 P/14', 1127, 25, 28, INK));
  g.push(txt('S', 307, 25, 28, INK));
  g.push(txt('N', 1991, 25, 28, INK));
  g.push({ type: 'polyline', silent: true, shape: { points: [[281, 33], [260, 33], [260, 63]] }, style: { stroke: '#222', lineWidth: 1.2, fill: null } });
  g.push({ type: 'polyline', silent: true, shape: { points: [[2018, 33], [2040, 33], [2040, 63]] }, style: { stroke: '#222', lineWidth: 1.2, fill: null } });
  g.push({ type: 'line', silent: true, shape: { x1: bx, y1: TOP0, x2: bx, y2: 1370 }, style: { stroke: '#222', lineWidth: 1.2 } });
  g.push(txt('L20670', bx - 15, 1362, 13, INK, 'right'));
  g.push(txt('L206701', bx + 21, 1362, 13, INK, 'left'));
  g.push(txt('LINE 2067', 262, 1398, 28, INK, 'left'));
  g.push(txt('Scale 1:150000', 462, 1401, 16, INK, 'left'));
  g.push(txt('3 KM', (s0 + s1) / 2, 1383, 16, INK));
  g.push({ type: 'line', silent: true, shape: { x1: s0, y1: 1406, x2: s1, y2: 1406 }, style: { stroke: '#222', lineWidth: 1.2 } });
  g.push({ type: 'line', silent: true, shape: { x1: s0, y1: 1398, x2: s0, y2: 1414 }, style: { stroke: '#222', lineWidth: 1.2 } });
  g.push({ type: 'line', silent: true, shape: { x1: s1, y1: 1398, x2: s1, y2: 1414 }, style: { stroke: '#222', lineWidth: 1.2 } });
  g.push(txt('azimuth 0\u00b0', 1095, 1388, 16, INK, 'left'));
  g.push({ type: 'line', silent: true, shape: { x1: 1095, y1: 1406, x2: 1284, y2: 1406 }, style: { stroke: '#222', lineWidth: 1.2 } });
  g.push({ type: 'polyline', silent: true, shape: { points: [[1272, 1397], [1284, 1406], [1272, 1415]] }, style: { stroke: '#222', lineWidth: 1.2, fill: null } });
  return g;
}

export default function App() {
  const ref = useRef<HTMLDivElement>(null);
  useEffect(() => {
    const el = ref.current;
    if (!el) return;
    const chart = echarts.init(el, null, { renderer: 'svg' });
    chart.setOption(buildOption() as any);
    const bx = chart.convertToPixel({ xAxisIndex: 0 }, BREAK_KM) as unknown as number;
    const s0 = chart.convertToPixel({ xAxisIndex: 11 }, SCALE_BAR_KM[0]) as unknown as number;
    const s1 = chart.convertToPixel({ xAxisIndex: 11 }, SCALE_BAR_KM[1]) as unknown as number;
    chart.setOption({ graphic: buildGraphics(bx, s0, s1) } as any);
    return () => chart.dispose();
  }, []);
  return <div ref={ref} style={{ position: 'absolute', left: 0, top: 0, width: CW, height: CH, background: '#fff' }} />;
}
